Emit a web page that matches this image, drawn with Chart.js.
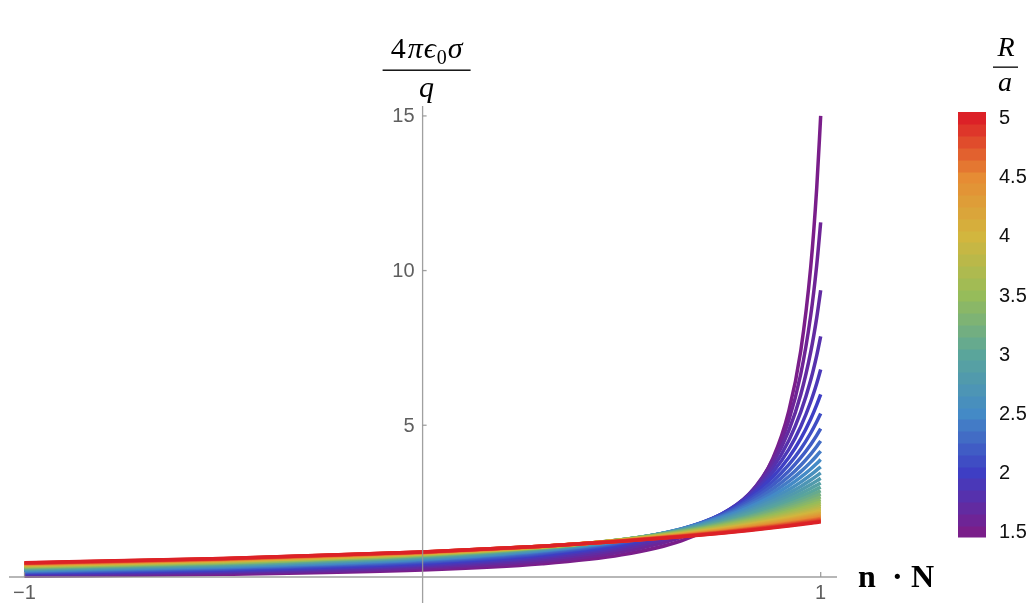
<!DOCTYPE html>
<html>
<head>
<meta charset="utf-8">
<script src="https://cdn.jsdelivr.net/npm/chart.js@4/dist/chart.umd.min.js"></script>
<style>
  html, body { margin: 0; padding: 0; background: #ffffff; }
  canvas { display: block; }
</style>
</head>
<body>
<canvas id="chart" width="1028" height="609"></canvas>
<script>
// Surface charge density 4πϵ0σ/q against n·N, one curve per ratio R/a.
const nDotN = [-1, -0.5, 0, 0.3, 0.5, 0.65, 0.75, 0.82, 0.88, 0.92, 0.95, 0.975, 0.99, 1];

const ratioRa = [1.5, 1.6, 1.7, 1.8, 1.9, 2.0, 2.1, 2.2, 2.3, 2.4, 2.5, 2.6, 2.7, 2.8, 2.9, 3.0,
                 3.1, 3.2, 3.3, 3.4, 3.5, 3.6, 3.7, 3.8, 3.9, 4.0, 4.1, 4.2, 4.3, 4.4, 4.5, 4.6,
                 4.7, 4.8, 4.9, 5.0];

const s15 = [0.120, 0.181, 0.320, 0.521, 0.810, 1.265, 1.875, 2.670, 3.936, 5.466, 7.412, 10.12, 12.66, 15.0];
const s16 = [0.142, 0.213, 0.372, 0.595, 0.910, 1.386, 1.998, 2.756, 3.889, 5.163, 6.656, 8.552, 10.17, 11.56];
const s17 = [0.163, 0.243, 0.419, 0.661, 0.991, 1.476, 2.071, 2.777, 3.776, 4.830, 5.992, 7.369, 8.471, 9.367];
const s18 = [0.184, 0.272, 0.462, 0.718, 1.058, 1.540, 2.110, 2.758, 3.633, 4.510, 5.430, 6.465, 7.254, 7.875];
const s19 = [0.203, 0.299, 0.501, 0.767, 1.112, 1.584, 2.124, 2.716, 3.481, 4.218, 4.959, 5.760, 6.350, 6.802];
const s20 = [0.222, 0.324, 0.537, 0.810, 1.155, 1.614, 2.121, 2.660, 3.332, 3.956, 4.564, 5.201, 5.657, 6.000];
const s21 = [0.240, 0.348, 0.569, 0.847, 1.189, 1.632, 2.108, 2.598, 3.191, 3.725, 4.232, 4.749, 5.112, 5.380];
const s22 = [0.258, 0.371, 0.599, 0.879, 1.217, 1.642, 2.087, 2.533, 3.060, 3.522, 3.950, 4.378, 4.673, 4.889];
const s23 = [0.275, 0.392, 0.626, 0.907, 1.238, 1.646, 2.062, 2.469, 2.939, 3.342, 3.709, 4.069, 4.314, 4.491];
const s24 = [0.291, 0.412, 0.650, 0.931, 1.255, 1.645, 2.034, 2.407, 2.829, 3.183, 3.501, 3.808, 4.015, 4.163];
const s25 = [0.306, 0.431, 0.672, 0.952, 1.268, 1.641, 2.005, 2.348, 2.728, 3.043, 3.320, 3.586, 3.763, 3.889];
const s26 = [0.321, 0.449, 0.693, 0.970, 1.278, 1.634, 1.975, 2.291, 2.636, 2.917, 3.162, 3.394, 3.548, 3.656];
const s27 = [0.335, 0.466, 0.712, 0.986, 1.285, 1.625, 1.945, 2.238, 2.552, 2.805, 3.023, 3.228, 3.362, 3.457];
const s28 = [0.349, 0.482, 0.729, 1.000, 1.290, 1.615, 1.916, 2.187, 2.475, 2.704, 2.900, 3.082, 3.201, 3.284];
const s29 = [0.362, 0.498, 0.744, 1.012, 1.294, 1.604, 1.888, 2.140, 2.405, 2.613, 2.790, 2.953, 3.059, 3.133];
const s30 = [0.375, 0.512, 0.759, 1.022, 1.296, 1.593, 1.861, 2.096, 2.340, 2.531, 2.692, 2.839, 2.934, 3.000];
const s31 = [0.387, 0.526, 0.772, 1.031, 1.297, 1.581, 1.834, 2.055, 2.281, 2.456, 2.603, 2.737, 2.822, 2.882];
const s32 = [0.399, 0.539, 0.785, 1.039, 1.297, 1.570, 1.809, 2.016, 2.226, 2.388, 2.523, 2.645, 2.723, 2.777];
const s33 = [0.411, 0.551, 0.796, 1.046, 1.296, 1.558, 1.785, 1.980, 2.176, 2.326, 2.450, 2.562, 2.633, 2.682];
const s34 = [0.422, 0.563, 0.807, 1.052, 1.295, 1.546, 1.762, 1.945, 2.129, 2.268, 2.383, 2.486, 2.552, 2.597];
const s35 = [0.432, 0.574, 0.816, 1.058, 1.293, 1.534, 1.740, 1.913, 2.086, 2.216, 2.322, 2.418, 2.478, 2.520];
const s36 = [0.442, 0.585, 0.826, 1.062, 1.291, 1.523, 1.719, 1.883, 2.045, 2.167, 2.266, 2.355, 2.411, 2.450];
const s37 = [0.452, 0.595, 0.834, 1.066, 1.289, 1.512, 1.699, 1.855, 2.008, 2.122, 2.215, 2.297, 2.350, 2.385];
const s38 = [0.462, 0.605, 0.842, 1.070, 1.286, 1.501, 1.680, 1.828, 1.973, 2.080, 2.167, 2.244, 2.293, 2.327];
const s39 = [0.471, 0.615, 0.849, 1.073, 1.283, 1.491, 1.662, 1.803, 1.940, 2.041, 2.123, 2.196, 2.241, 2.272];
const s40 = [0.480, 0.624, 0.856, 1.076, 1.280, 1.480, 1.645, 1.779, 1.909, 2.005, 2.082, 2.150, 2.193, 2.222];
const s41 = [0.489, 0.632, 0.862, 1.078, 1.277, 1.470, 1.628, 1.756, 1.880, 1.971, 2.044, 2.108, 2.148, 2.176];
const s42 = [0.497, 0.640, 0.868, 1.080, 1.274, 1.461, 1.612, 1.735, 1.853, 1.939, 2.008, 2.069, 2.107, 2.133];
const s43 = [0.505, 0.648, 0.874, 1.082, 1.270, 1.451, 1.597, 1.715, 1.827, 1.909, 1.975, 2.032, 2.068, 2.093];
const s44 = [0.513, 0.656, 0.879, 1.083, 1.267, 1.442, 1.583, 1.695, 1.803, 1.881, 1.943, 1.998, 2.032, 2.055];
const s45 = [0.521, 0.663, 0.884, 1.084, 1.264, 1.433, 1.569, 1.677, 1.780, 1.855, 1.914, 1.966, 1.998, 2.020];
const s46 = [0.528, 0.670, 0.889, 1.085, 1.260, 1.425, 1.556, 1.660, 1.758, 1.830, 1.886, 1.936, 1.967, 1.988];
const s47 = [0.535, 0.677, 0.893, 1.086, 1.257, 1.417, 1.543, 1.643, 1.738, 1.806, 1.860, 1.908, 1.937, 1.957];
const s48 = [0.542, 0.683, 0.898, 1.087, 1.254, 1.409, 1.531, 1.627, 1.718, 1.784, 1.836, 1.881, 1.909, 1.928];
const s49 = [0.549, 0.689, 0.902, 1.087, 1.250, 1.401, 1.519, 1.612, 1.700, 1.763, 1.813, 1.856, 1.883, 1.901];
const s50 = [0.556, 0.695, 0.905, 1.088, 1.247, 1.394, 1.508, 1.598, 1.682, 1.743, 1.790, 1.832, 1.858, 1.875];

const sigmaCurves = [s15, s16, s17, s18, s19, s20, s21, s22, s23, s24, s25, s26, s27, s28, s29, s30,
                     s31, s32, s33, s34, s35, s36, s37, s38, s39, s40, s41, s42, s43, s44, s45, s46,
                     s47, s48, s49, s50];

const yTicks = [5, 10, 15];
const xTicks = [-1, 1];
const xTickLabels = ['\u22121', '1'];
const barTicks = [1.5, 2, 2.5, 3, 3.5, 4, 4.5, 5];
const barTickLabels = ['1.5', '2', '2.5', '3', '3.5', '4', '4.5', '5'];

// Rainbow colour ramp over R/a
const rainbowStops = [
  [1.5, [122, 30, 138]],
  [2.0, [62, 62, 196]],
  [2.5, [68, 138, 198]],
  [3.0, [90, 165, 155]],
  [3.5, [150, 188, 90]],
  [4.0, [210, 182, 62]],
  [4.5, [230, 140, 52]],
  [5.0, [220, 33, 39]]
];
function rainbow(v) {
  if (v <= rainbowStops[0][0]) return 'rgb(' + rainbowStops[0][1].join(',') + ')';
  for (let k = 1; k < rainbowStops.length; k++) {
    const [v1, c1] = rainbowStops[k];
    const [v0, c0] = rainbowStops[k - 1];
    if (v <= v1 + 1e-9) {
      const t = (v - v0) / (v1 - v0);
      const c = c0.map((a, i) => Math.round(a + (c1[i] - a) * t));
      return 'rgb(' + c.join(',') + ')';
    }
  }
  return 'rgb(' + rainbowStops[rainbowStops.length - 1][1].join(',') + ')';
}

const axisCrossY = 0.094;     // height at which the horizontal axis is drawn
const AXIS_COLOR = 'rgba(150,150,150,0.9)';
const TICK_FONT = '20px "Liberation Sans", Arial, Helvetica, sans-serif';
const SERIF = '"Liberation Serif", "DejaVu Serif", "Times New Roman", serif';

// Colour bar geometry
const bar = { left: 958, right: 986, top: 112, bottom: 537, vTop: 5.05, vBottom: 1.45 };
function barY(v) {
  return bar.top + (bar.vTop - v) / (bar.vTop - bar.vBottom) * (bar.bottom - bar.top);
}

function drawPieces(ctx, pieces, cx, baseline) {
  let total = 0;
  pieces.forEach(p => { ctx.font = p.font; p.w = ctx.measureText(p.text).width + (p.gap || 0); total += p.w; });
  let x = cx - total / 2;
  pieces.forEach(p => {
    ctx.font = p.font;
    ctx.fillText(p.text, x, baseline + (p.dy || 0));
    x += p.w;
  });
}

const axesPlugin = {
  id: 'mathAxes',
  afterDatasetsDraw(chart) {
    const { ctx, chartArea: a, scales: { x, y } } = chart;
    const ox = x.getPixelForValue(0);
    const oy = y.getPixelForValue(axisCrossY);
    ctx.save();

    // axis lines
    ctx.strokeStyle = AXIS_COLOR;
    ctx.lineWidth = 1.3;
    ctx.beginPath();
    ctx.moveTo(a.left, oy); ctx.lineTo(a.right, oy);
    ctx.moveTo(ox, a.top); ctx.lineTo(ox, a.bottom);
    ctx.stroke();

    // vertical ticks and labels
    ctx.font = TICK_FONT;
    ctx.fillStyle = '#5f5f5f';
    ctx.textAlign = 'right';
    ctx.textBaseline = 'middle';
    yTicks.forEach(v => {
      const py = y.getPixelForValue(v);
      ctx.beginPath(); ctx.moveTo(ox, py); ctx.lineTo(ox + 4, py); ctx.stroke();
      ctx.fillText(String(v), ox - 8, py + 1);
    });

    // horizontal ticks and labels
    ctx.textAlign = 'center';
    ctx.textBaseline = 'alphabetic';
    xTicks.forEach((v, i) => {
      const px = x.getPixelForValue(v);
      ctx.beginPath(); ctx.moveTo(px, oy); ctx.lineTo(px, oy - 5); ctx.stroke();
      ctx.fillText(xTickLabels[i], px, oy + 22);
    });

    // axis titles
    ctx.fillStyle = '#000';
    ctx.textAlign = 'left';
    ctx.font = 'bold 32px ' + SERIF;
    ctx.fillText('n', 858, 587);
    ctx.fillText('\u00b7', 892, 587);
    ctx.fillText('N', 911, 587);

    const it = 'italic 30px ' + SERIF;
    drawPieces(ctx, [
      { text: '4', font: '30px ' + SERIF, gap: 2 },
      { text: '\u03c0', font: it, gap: 1 },
      { text: '\u03f5', font: it, gap: 1 },
      { text: '0', font: '20px ' + SERIF, dy: 6, gap: 1 },
      { text: '\u03c3', font: it }
    ], ox + 4, 58);
    ctx.fillRect(ox - 40, 69.5, 88, 1.4);
    drawPieces(ctx, [{ text: 'q', font: it }], ox + 4, 97);

    // colour bar
    ratioRa.forEach(r => {
      const t = barY(r + 0.05), b = barY(r - 0.05);
      ctx.fillStyle = rainbow(r);
      ctx.fillRect(bar.left, Math.floor(t), bar.right - bar.left, Math.ceil(b) - Math.floor(t) + 0.5);
    });
    ctx.font = TICK_FONT;
    ctx.fillStyle = '#111';
    ctx.textAlign = 'left';
    ctx.textBaseline = 'middle';
    barTicks.forEach((v, i) => ctx.fillText(barTickLabels[i], 999, barY(v) + 1));

    ctx.textBaseline = 'alphabetic';
    ctx.fillStyle = '#000';
    drawPieces(ctx, [{ text: 'R', font: 'italic 28px ' + SERIF }], 1006, 56);
    ctx.fillRect(993, 66.5, 25, 1.3);
    drawPieces(ctx, [{ text: 'a', font: 'italic 28px ' + SERIF }], 1005, 91);

    ctx.restore();
  }
};

new Chart(document.getElementById('chart').getContext('2d'), {
  type: 'line',
  data: {
    datasets: sigmaCurves.map((vals, i) => ({
      label: 'R/a = ' + ratioRa[i],
      data: vals.map((v, j) => ({ x: nDotN[j], y: v })),
      borderColor: rainbow(ratioRa[i]),
      borderWidth: 3.5,
      pointRadius: 0,
      fill: false,
      cubicInterpolationMode: 'monotone',
      borderCapStyle: 'butt',
      borderJoinStyle: 'round',
      order: sigmaCurves.length - 1 - i
    }))
  },
  options: {
    responsive: false,
    animation: false,
    devicePixelRatio: 1,
    events: [],
    layout: { padding: { left: 9, right: 191, top: 106, bottom: 6 } },
    plugins: { legend: { display: false }, tooltip: { enabled: false } },
    scales: {
      x: { type: 'linear', min: -1.039, max: 1.041, display: false },
      y: { type: 'linear', min: -0.747, max: 15.321, display: false }
    }
  },
  plugins: [axesPlugin]
});
</script>
</body>
</html>
